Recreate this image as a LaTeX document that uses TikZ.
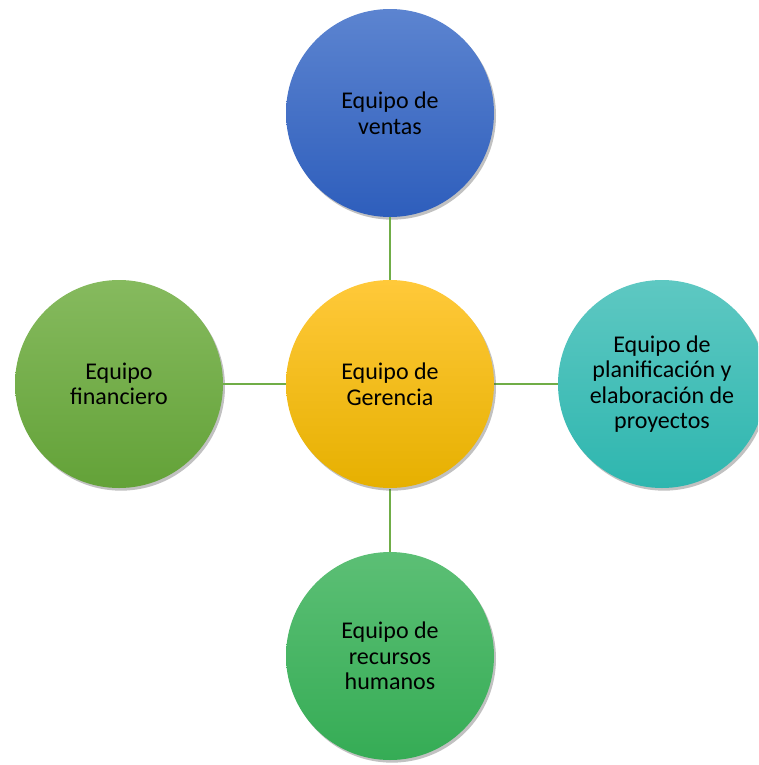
\documentclass[tikz,border=0pt]{standalone}
\usepackage{fontspec}
\setmainfont{Carlito}
\usetikzlibrary{shadows}
\definecolor{lnk}{HTML}{70AD47}
\begin{document}
\begin{tikzpicture}[x=0.75pt,y=-0.75pt,
  bub/.style={circle,minimum size=208*0.75pt,inner sep=0pt,align=center,
    font=\fontsize{18}{19.2}\selectfont,text=black,
    drop shadow={shadow xshift=1.5pt,shadow yshift=-2pt,opacity=0.35,fill=black!70}},
  lnkline/.style={draw=lnk,line width=1.8pt}]
\useasboundingbox (0,0) rectangle (758,765);
\clip (0,0) rectangle (758,765);
\node[bub,top color={rgb,255:red,92;green,132;blue,208},bottom color={rgb,255:red,46;green,94;blue,188}] (top) at (390,113) {Equipo de\\ventas};
\node[bub,top color={rgb,255:red,134;green,186;blue,94},bottom color={rgb,255:red,99;green,162;blue,56}] (left) at (119,384) {Equipo\\financiero};
\node[bub,top color={rgb,255:red,94;green,200;blue,194},bottom color={rgb,255:red,46;green,182;blue,175}] (right) at (662,384) {Equipo de\\planificación y\\elaboración de\\proyectos};
\node[bub,top color={rgb,255:red,92;green,191;blue,117},bottom color={rgb,255:red,53;green,172;blue,85}] (bottom) at (390,656) {Equipo de\\recursos\\humanos};
\draw[lnkline] (top) -- (390,280) coordinate (ctop);
\draw[lnkline] (bottom) -- (390,489) coordinate (cbot);
\draw[lnkline] (left) -- (286,384) coordinate (cleft);
\draw[lnkline] (right) -- (494,384) coordinate (cright);
\node[bub,top color={rgb,255:red,255;green,201;blue,58},bottom color={rgb,255:red,230;green,176;blue,0}] (center) at (390,384) {Equipo de\\Gerencia};
\end{tikzpicture}
\end{document}
